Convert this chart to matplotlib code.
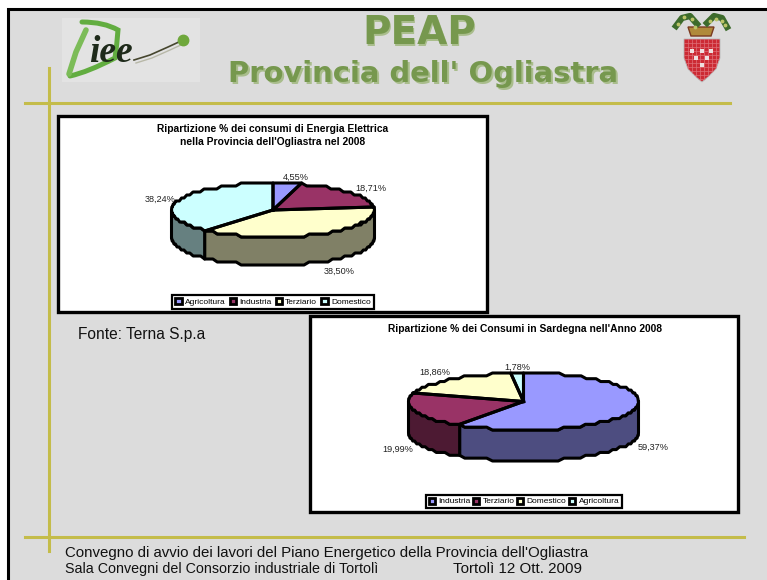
import numpy as np
import matplotlib
matplotlib.use('Agg')
import matplotlib.pyplot as plt
from matplotlib.patches import Patch, PathPatch, Polygon, Rectangle
from matplotlib.path import Path

plt.rcParams['font.family'] = ['Liberation Sans', 'DejaVu Sans']

# chart values
cat_prov = ['Agricoltura', 'Industria', 'Terziario', 'Domestico']
val_prov = [4.55, 18.71, 38.50, 38.24]
lab_prov = ['4,55%', '18,71%', '38,50%', '38,24%']
cat_sard = ['Industria', 'Terziario', 'Domestico', 'Agricoltura']
val_sard = [59.37, 19.99, 18.86, 1.78]
lab_sard = ['59,37%', '19,99%', '18,86%', '1,78%']

# colours and label places
col_prov = ['#9999ff', '#993366', '#ffffcc', '#ccffff']
wall_prov = ['#4d4d80', '#4d1a33', '#808066', '#668080']
col_sard = ['#9999ff', '#993366', '#ffffcc', '#ccffff']
wall_sard = ['#4d4d80', '#4d1a33', '#808066', '#668080']
pos_prov = [(296, 177), (371, 188), (339, 271), (160, 199)]
pos_sard = [(653, 447), (398, 449), (435, 372), (517, 367)]

GOLD = '#c4bc4a'
GREEN = '#76984e'

fig = plt.figure(figsize=(7.67, 5.8), dpi=100, facecolor='white')
ax = fig.add_axes([0, 0, 1, 1])
ax.set_xlim(0, 767)
ax.set_ylim(580, 0)
ax.axis('off')

# slide background
ax.add_patch(Rectangle((7.5, 8.5), 770, 580, fc='#dcdcdc', ec='black', lw=2.2, zorder=0))
ax.plot([25, 730], [103, 103], color=GOLD, lw=2.2, zorder=1)
ax.plot([25, 744], [537, 537], color=GOLD, lw=2.2, zorder=1)
ax.plot([49, 49], [68, 551], color=GOLD, lw=2.2, zorder=1)

# logo
ax.add_patch(Rectangle((62, 18), 138, 64, fc='#e3e3e3', ec='none', zorder=1))
d_bowl = Path([(82, 22), (104, 22), (118, 30), (117, 44), (115, 58), (88, 72), (70, 76)],
              [Path.MOVETO] + [Path.CURVE3] * 6)
ax.add_patch(PathPatch(d_bowl, fc='none', ec='#62ad40', lw=3.6, zorder=2, capstyle='round'))
ax.plot([69, 76, 86], [74, 52, 30], color='#7cbc58', lw=4, zorder=2, solid_capstyle='round')
ax.plot([134, 150, 168, 181], [60, 55, 47, 41], color='#46462e', lw=1.2, zorder=3)
ax.plot([136, 152, 170, 183], [63, 58, 50, 44], color='#b8b8a8', lw=1, zorder=2)
ax.plot([183], [40], 'o', color='#6fa83c', ms=7.5, zorder=3)
ax.text(89, 52, 'iee', ha='left', va='center', fontsize=27, fontstyle='italic', fontweight='bold',
        family='Liberation Serif', color='#1e2a1a', zorder=4)

# crest
shield = [(684, 39), (720, 39), (720, 58), (716, 69), (708, 77), (702, 82), (696, 77), (688, 69), (684, 58)]
sh = Polygon(shield, fc='#cc2a34', ec='#b8b8b8', lw=.6, zorder=2)
ax.add_patch(sh)
for g in range(688, 720, 4):
    ln = ax.plot([g, g], [39, 82], color='#e07078', lw=.5, zorder=2)[0]
    ln.set_clip_path(sh)
for g in range(43, 82, 4):
    ln = ax.plot([684, 720], [g, g], color='#e07078', lw=.5, zorder=2)[0]
    ln.set_clip_path(sh)
for x, y in [(692, 51), (702, 51), (711, 51), (696, 58), (707, 58), (702, 65)]:
    ax.add_patch(Rectangle((x - 1.7, y - 1.7), 3.4, 3.4, fc='#eee0e0', ec='none', zorder=3))
ax.add_patch(Polygon([(688, 27), (714, 27), (711, 36), (691, 36)], fc='#b08a3a', ec='#7a3a20', lw=1, zorder=2))
ax.plot([676, 682, 690, 697], [26, 18, 16, 24], color='#3d6b2c', lw=4.5, zorder=3)
ax.plot([707, 714, 722, 727], [23, 16, 18, 27], color='#3d6b2c', lw=4.5, zorder=3)
ax.plot([678, 684, 692, 695, 710, 716, 722, 725], [24, 17, 19, 27, 21, 19, 21, 25], '.',
        color='#bcc468', ms=3.5, zorder=4)

# header
for dx, c in [(1.5, '#a9bd8c'), (0, GREEN)]:
    ax.text(419 + dx, 33 + dx, 'PEAP', ha='center', va='center', color=c, fontsize=28,
            fontweight='bold', family='DejaVu Sans', zorder=3)
    ax.text(423.5 + dx, 74 + dx, "Provincia dell' Ogliastra", ha='center', va='center', color=c,
            fontsize=20.9, fontweight='bold', family='DejaVu Sans', zorder=3)

ax.text(78, 335, 'Fonte: Terna S.p.a', ha='left', va='center', fontsize=11.2, color='#111111')
ax.text(65, 553, "Convegno di avvio dei lavori del Piano Energetico della Provincia dell'Ogliastra",
        ha='left', va='center', fontsize=10.8, color='#111111')
ax.text(65, 569, 'Sala Convegni del Consorzio industriale di Tortolì', ha='left', va='center',
        fontsize=10.3, color='#111111')
ax.text(453, 569, 'Tortolì 12 Ott. 2009', ha='left', va='center', fontsize=10.9, color='#111111')


def arc_points(t0, t1, st):
    # arc with y rounded to a step, so the outline goes in stairs
    n = max(2, int((t1 - t0) / 3) + 1)
    t = np.radians(np.linspace(t0, t1, n))
    return np.sin(t), np.round(np.cos(t) / st) * st


def pie3d(cx, cy, rx, ry, depth, values, cols, walls):
    # pie squashed to an ellipse, with the front wall under it
    m = 1.1
    dn = depth / ry
    st = 1 / round(ry / 3.0)
    rect = [(cx - m * rx) / 767, 1 - (cy + (m + dn) * ry) / 580, 2 * m * rx / 767, (2 * m + dn) * ry / 580]
    a = fig.add_axes(rect, zorder=5)
    a.patch.set_alpha(0)
    a.pie(values, colors=cols, startangle=90, counterclock=False, wedgeprops=dict(edgecolor='none'))
    a.set_aspect('auto')
    a.set_xlim(-m, m)
    a.set_ylim(-m - dn, m)
    edges = np.cumsum([0] + list(values)) / np.sum(values) * 360
    for i in range(len(values)):
        xs, ys = arc_points(edges[i], edges[i + 1], st)
        a.plot(np.r_[0, xs, 0], np.r_[0, ys, 0], color='black', lw=2.2, zorder=5, solid_joinstyle='round')
        t0, t1 = max(edges[i], 90), min(edges[i + 1], 270)
        if t1 <= t0:
            continue
        xs, ys = arc_points(t0, t1, st)
        pts = np.column_stack([np.r_[xs, xs[::-1]], np.r_[ys, ys[::-1] - dn]])
        a.add_patch(Polygon(pts, fc=walls[i], ec='black', lw=2.2, zorder=0, joinstyle='round'))


def chart_box(x0, y0, x1, y1):
    ax.add_patch(Rectangle((x0, y0), x1 - x0, y1 - y0, fc='white', ec='black', lw=2.4, zorder=3))


def legend(cats, cols, x, y, spacing):
    h = [Patch(fc=c, ec='black', lw=2) for c in cols]
    leg = ax.legend(h, cats, loc='center', bbox_to_anchor=(x, y), bbox_transform=ax.transData,
                    ncol=4, fontsize=6.0, frameon=True, fancybox=False, edgecolor='black',
                    framealpha=1, handlelength=0.75, handleheight=0.75, handletextpad=0.4,
                    columnspacing=spacing, borderpad=0.35, borderaxespad=0)
    leg.get_frame().set_linewidth(1.6)
    leg.set_zorder(6)
    return leg


chart_box(58, 116, 487, 312)
chart_box(310, 316, 738, 512)
ax.text(273, 128.5, 'Ripartizione % dei consumi di Energia Elettrica', ha='center', va='center',
        fontsize=7.4, fontweight='bold', zorder=7)
ax.text(273, 142, "nella Provincia dell'Ogliastra nel 2008", ha='center', va='center',
        fontsize=7.4, fontweight='bold', zorder=7)
ax.text(525, 329, "Ripartizione % dei Consumi in Sardegna nell'Anno 2008", ha='center', va='center',
        fontsize=7.4, fontweight='bold', zorder=7)

pie3d(273, 210, 101.5, 27, 28, val_prov, col_prov, wall_prov)
pie3d(523.5, 401.5, 115, 28.5, 31, val_sard, col_sard, wall_sard)

for s, p in zip(lab_prov, pos_prov):
    fig.text(p[0] / 767, 1 - p[1] / 580, s, ha='center', va='center', fontsize=6.6, zorder=10, color='#222222')
for s, p in zip(lab_sard, pos_sard):
    fig.text(p[0] / 767, 1 - p[1] / 580, s, ha='center', va='center', fontsize=6.6, zorder=10, color='#222222')

leg1 = legend(cat_prov, col_prov, 273, 302, 0.5)
ax.add_artist(leg1)
legend(cat_sard, col_sard, 524, 501.5, 0.3)

fig.savefig('out.png', dpi=100)
